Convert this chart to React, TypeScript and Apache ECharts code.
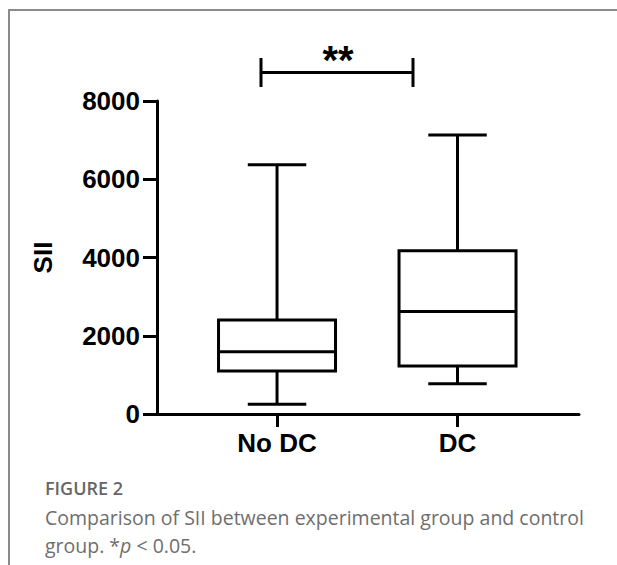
import React, { useEffect, useRef } from "react";
import * as echarts from "echarts";

const categories = ["No DC", "DC"];
const minValues = [250, 770];
const q1Values = [1100, 1230];
const medianValues = [1590, 2620];
const q3Values = [2400, 4170];
const maxValues = [6370, 7130];
const yTicks = [0, 2000, 4000, 6000, 8000];
const significance = "**";
const figureLabel = "FIGURE 2";
const captionLine1 = "Comparison of SII between experimental group and control";

const BOX_W = 117;
const LW = 3;

export default function App() {
  const ref = useRef<HTMLDivElement>(null);
  useEffect(() => {
    if (!ref.current) return;
    const chart = echarts.init(ref.current, null, { renderer: "svg" });
    const data = categories.map((_, i) => [i, minValues[i], q1Values[i], medianValues[i], q3Values[i], maxValues[i]]);
    const lineStyle = { stroke: "#000", lineWidth: LW, fill: "none" };
    const capFont = "'Open Sans', sans-serif";
    const option: any = {
      animation: false,
      grid: { left: 157, right: 38, top: 101, bottom: 151, containLabel: false },
      xAxis: {
        type: "value",
        min: -0.665,
        max: 1.673,
        axisLine: { show: true, onZero: false, lineStyle: { color: "#000", width: LW } },
        axisTick: { show: true, length: 13, lineStyle: { color: "#000", width: LW }, customValues: [0, 1] },
        axisLabel: {
          show: true,
          customValues: [0, 1],
          formatter: (v: number) => categories[Math.round(v)] ?? "",
          margin: 16,
          color: "#000",
          fontSize: 26,
          fontWeight: "bold",
          fontFamily: "Liberation Sans, Arial, sans-serif",
        },
        splitLine: { show: false },
      },
      yAxis: {
        type: "value",
        min: yTicks[0],
        max: yTicks[yTicks.length - 1],
        interval: 2000,
        name: "SII",
        nameLocation: "middle",
        nameRotate: 90,
        nameGap: 101,
        nameTextStyle: { color: "#000", fontSize: 26, fontWeight: "bold", fontFamily: "Liberation Sans, Arial, sans-serif" },
        axisLine: { show: true, onZero: false, lineStyle: { color: "#000", width: LW } },
        axisTick: { show: true, length: 14, lineStyle: { color: "#000", width: LW } },
        axisLabel: {
          margin: 17,
          formatter: (v: number) => String(v),
          color: "#000",
          fontSize: 26,
          fontWeight: "bold",
          fontFamily: "Liberation Sans, Arial, sans-serif",
        },
        splitLine: { show: false },
      },
      series: [
        {
          type: "custom",
          data,
          encode: { x: 0, y: [1, 2, 3, 4, 5] },
          renderItem: (params: any, api: any) => {
            const x = api.value(0);
            const pMin = api.coord([x, api.value(1)]);
            const pQ1 = api.coord([x, api.value(2)]);
            const pMed = api.coord([x, api.value(3)]);
            const pQ3 = api.coord([x, api.value(4)]);
            const pMax = api.coord([x, api.value(5)]);
            const cx = pMin[0];
            const h = BOX_W / 2;
            const c = BOX_W / 4;
            const ln = (x1: number, y1: number, x2: number, y2: number) => ({
              type: "line",
              shape: { x1, y1, x2, y2 },
              style: lineStyle,
            });
            return {
              type: "group",
              children: [
                ln(cx, pMax[1], cx, pQ3[1]),
                ln(cx - c, pMax[1], cx + c, pMax[1]),
                ln(cx, pQ1[1], cx, pMin[1]),
                ln(cx - c, pMin[1], cx + c, pMin[1]),
                {
                  type: "rect",
                  shape: { x: cx - h, y: pQ3[1], width: BOX_W, height: pQ1[1] - pQ3[1] },
                  style: { stroke: "#000", lineWidth: LW, fill: "none" },
                },
                ln(cx - h, pMed[1], cx + h, pMed[1]),
              ],
            };
          },
        },
      ],
      graphic: [
        { type: "line", shape: { x1: 9, y1: 10, x2: 617, y2: 10 }, style: { stroke: "#8a8a8a", lineWidth: 2 } },
        { type: "line", shape: { x1: 9, y1: 9, x2: 9, y2: 565 }, style: { stroke: "#8a8a8a", lineWidth: 2 } },
        { type: "line", shape: { x1: 261, y1: 72.5, x2: 413, y2: 72.5 }, style: { stroke: "#000", lineWidth: LW } },
        { type: "line", shape: { x1: 261, y1: 58, x2: 261, y2: 87 }, style: { stroke: "#000", lineWidth: LW } },
        { type: "line", shape: { x1: 413, y1: 58, x2: 413, y2: 87 }, style: { stroke: "#000", lineWidth: LW } },
        {
          type: "text",
          x: 338,
          y: 40,
          style: {
            text: significance,
            fill: "#000",
            font: "bold 40px 'Liberation Sans', Arial, sans-serif",
            align: "center",
            verticalAlign: "top",
          },
        },
        {
          type: "text",
          x: 45,
          y: 488,
          style: {
            text: figureLabel,
            fill: "#666",
            font: "600 18px " + capFont,
            align: "left",
            verticalAlign: "middle",
          },
        },
        {
          type: "text",
          x: 45,
          y: 517,
          style: {
            text: captionLine1,
            fill: "#6e6e6e",
            font: "19.5px " + capFont,
            align: "left",
            verticalAlign: "middle",
          },
        },
        {
          type: "text",
          x: 45,
          y: 545,
          style: {
            text: "group. {i|*}{it|p} < 0.05.",
            fill: "#6e6e6e",
            font: "19.5px " + capFont,
            align: "left",
            verticalAlign: "middle",
            rich: {
              i: { fill: "#6e6e6e", font: "19.5px " + capFont },
              it: { fill: "#6e6e6e", font: "italic 19.5px " + capFont },
            },
          },
        },
      ],
    };
    chart.setOption(option);
    return () => chart.dispose();
  }, []);
  return <div ref={ref} style={{ position: "fixed", left: 0, top: 0, width: 617, height: 565, background: "#fff" }} />;
}
